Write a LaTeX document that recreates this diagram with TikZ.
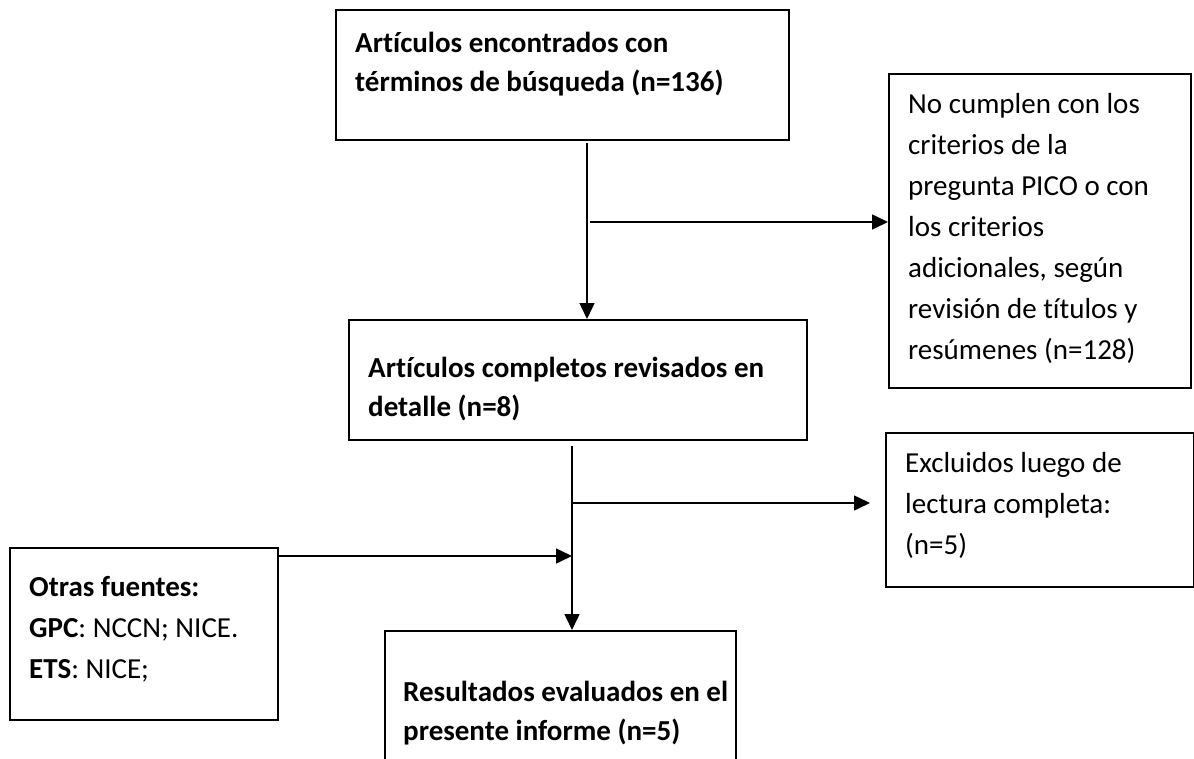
\documentclass[tikz,border=0pt]{standalone}
\usepackage{fontspec}
\setmainfont[Ligatures=NoCommon]{Carlito}
\usetikzlibrary{arrows.meta}
\begin{document}
\begin{tikzpicture}[x=1pt,y=-1pt,
  box/.style={draw=black,line width=1.8pt,inner sep=0pt,anchor=north west},
  boldtxt/.style={anchor=north west,inner sep=0pt,align=left,font=\fontsize{29}{39}\selectfont\bfseries},
  plaintxt/.style={anchor=north west,inner sep=0pt,align=left,font=\fontsize{29}{41}\selectfont},
  arr/.style={draw=black,line width=1.5pt,-{Triangle[length=16pt,width=15pt]}}]
\useasboundingbox (0,0) rectangle (1194,758);
\clip (0,0) rectangle (1194,758);
\fill[white] (0,0) rectangle (1194,758);
% boxes
\node[box,minimum width=453pt,minimum height=130pt] (b1) at (335,9) {};
\node[box,minimum width=458pt,minimum height=120pt] (b2) at (348,319) {};
\node[box,minimum width=302pt,minimum height=314pt] (b3) at (888,73) {};
\node[box,minimum width=308pt,minimum height=154pt] (b4) at (885,432) {};
\node[box,minimum width=268pt,minimum height=172pt] (b5) at (9,547) {};
\node[box,minimum width=351pt,minimum height=160pt] (b6) at (384,630) {};
% texts
\node[boldtxt] (t1) at (355,32) {Artículos encontrados con\\términos de búsqueda (n=136)};
\node[boldtxt] (t2) at (368,357) {Artículos completos revisados en\\detalle (n=8)};
\node[plaintxt] (t3) at (908,93) {No cumplen con los\\criterios de la\\pregunta PICO o con\\los criterios\\adicionales, según\\revisión de títulos y\\resúmenes (n=128)};
\node[plaintxt] (t4) at (905,452) {Excluidos luego de\\lectura completa:\\(n=5)};
\node[plaintxt] (t5) at (29,576) {\textbf{Otras fuentes:}\\\textbf{GPC}: NCCN; NICE.\\\textbf{ETS}: NICE;};
\node[boldtxt] (t6) at (403,681) {Resultados evaluados en el\\presente informe (n=5)};
% connectors
\coordinate (a1s) at (587,143);
\draw[arr] (a1s) -- (a1s |- b2.north);
\coordinate (a2s) at (590,222);
\draw[arr] (a2s) -- (a2s -| b3.west);
\coordinate (a3s) at (572,446);
\draw[arr] (a3s) -- (a3s |- b6.north);
\coordinate (a4s) at (572,503);
\coordinate (a4e) at (870,503);
\draw[arr] (a4s) -- (a4e);
\coordinate (a5e) at (572,556);
\draw[arr] (b5.east |- a5e) -- (a5e);
\end{tikzpicture}
\end{document}
